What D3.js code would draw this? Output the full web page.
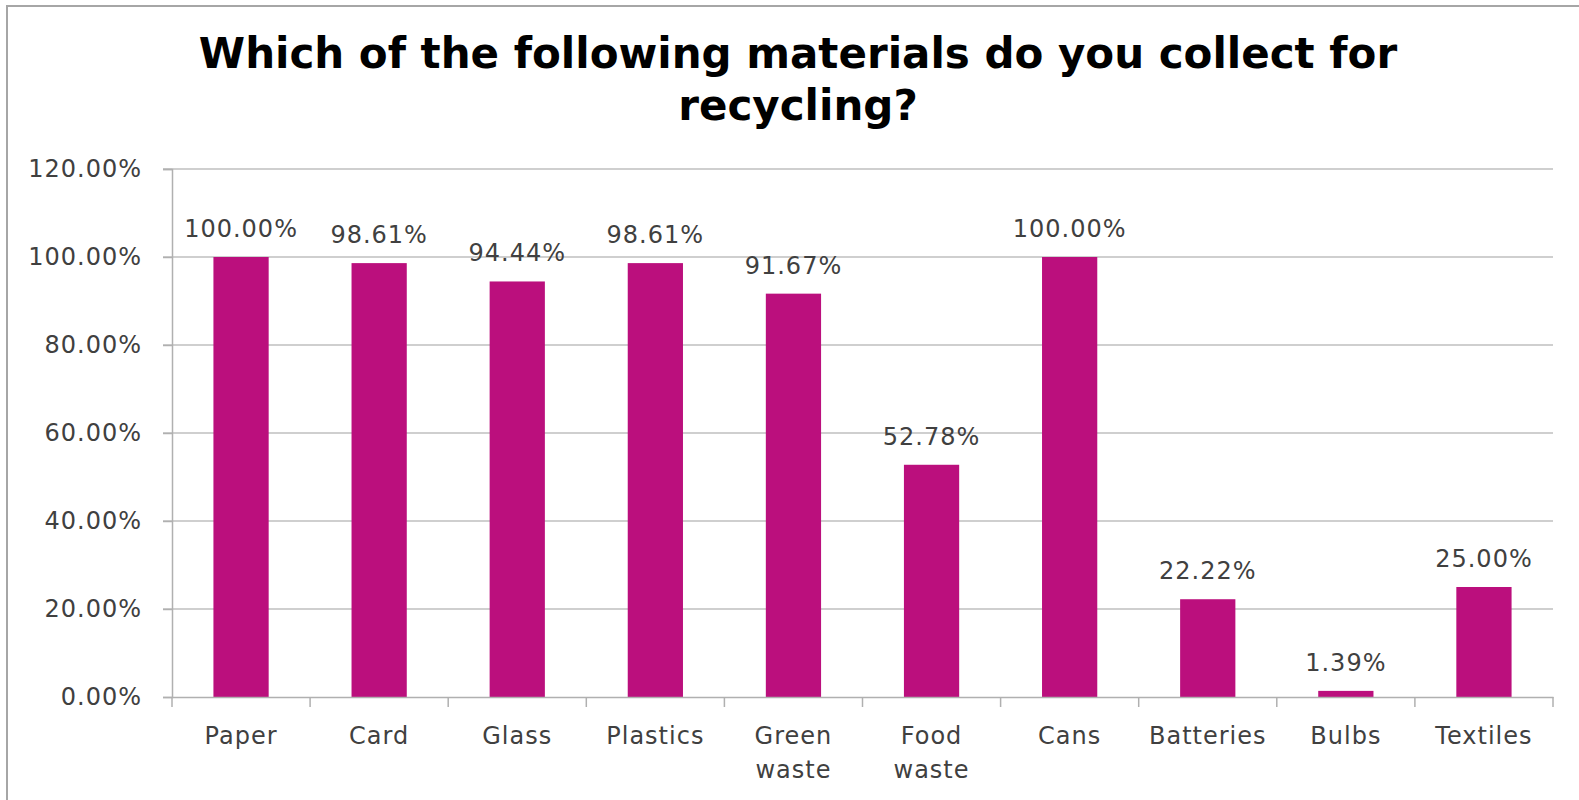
<!DOCTYPE html>
<html>
<head>
<meta charset="utf-8">
<script src="https://cdn.jsdelivr.net/npm/d3@7"></script>
<style>
  html, body { margin: 0; padding: 0; background: #fff; }
  svg { display: block; }
</style>
</head>
<body>
<svg id="chart" width="1579" height="800"></svg>
<script>
// data
const categories = ["Paper", "Card", "Glass", "Plastics", "Green waste", "Food waste", "Cans", "Batteries", "Bulbs", "Textiles"];
const values = [100.00, 98.61, 94.44, 98.61, 91.67, 52.78, 100.00, 22.22, 1.39, 25.00];
const yTicks = [0, 20, 40, 60, 80, 100, 120];
const titleLines = ["Which of the following materials do you collect for", "recycling?"];

const W = 1579, H = 800;
const m = { top: 169, right: 26, bottom: 103, left: 172 };
const barColor = "#bb0f7d";
const textColor = "#404040";
const fontFam = "'DejaVu Sans', Verdana, sans-serif";
const spacing = "1px";

const svg = d3.select("#chart");

// frame
svg.append("path")
  .attr("d", `M7,${H} L7,6 L${W},6`)
  .attr("fill", "none")
  .attr("stroke", "#a6a6a6")
  .attr("stroke-width", 2);

// title
const title = svg.append("text")
  .attr("text-anchor", "middle")
  .attr("font-family", fontFam)
  .attr("font-weight", "bold")
  .attr("font-size", 42)
  .attr("fill", "#000");
title.selectAll("tspan").data(titleLines).join("tspan")
  .attr("x", 798)
  .attr("y", (d, i) => 68 + i * 52)
  .text(d => d);

const x = d3.scaleBand()
  .domain(categories)
  .range([m.left, W - m.right])
  .padding(0);

const y = d3.scaleLinear()
  .domain([0, 120])
  .range([H - m.bottom, m.top]);

// gridlines
svg.append("g").selectAll("line").data(yTicks.filter(t => t > 0)).join("line")
  .attr("x1", m.left - 9).attr("x2", W - m.right)
  .attr("y1", d => y(d)).attr("y2", d => y(d))
  .attr("stroke", "#bfbfbf").attr("stroke-width", 1.5);

// y axis
const yAxis = svg.append("g")
  .attr("transform", `translate(${m.left},0)`)
  .call(d3.axisLeft(y).tickValues(yTicks).tickSize(9).tickPadding(21)
    .tickFormat(d => d.toFixed(2) + "%"));
yAxis.select(".domain").attr("stroke", "#b0b0b0").attr("stroke-width", 1.5);
yAxis.selectAll(".tick line").attr("stroke", "#b0b0b0").attr("stroke-width", 1.5);
yAxis.selectAll(".tick text")
  .attr("font-family", fontFam).attr("font-size", 24).attr("fill", textColor)
  .attr("letter-spacing", spacing);

// bars
const barW = x.bandwidth() * 0.4;
svg.append("g").selectAll("rect").data(values).join("rect")
  .attr("x", (d, i) => x(categories[i]) + (x.bandwidth() - barW) / 2)
  .attr("y", d => y(d))
  .attr("width", barW)
  .attr("height", d => y(0) - y(d))
  .attr("fill", barColor);

// data labels
svg.append("g").selectAll("text").data(values).join("text")
  .attr("x", (d, i) => x(categories[i]) + x.bandwidth() / 2)
  .attr("y", d => y(d) - 20)
  .attr("text-anchor", "middle")
  .attr("font-family", fontFam).attr("font-size", 24).attr("fill", textColor)
  .attr("letter-spacing", spacing)
  .text(d => d.toFixed(2) + "%");

// x axis
const xAxis = svg.append("g")
  .attr("transform", `translate(0,${y(0)})`)
  .call(d3.axisBottom(x).tickSize(0).tickFormat(""));
xAxis.select(".domain").attr("stroke", "#b0b0b0").attr("stroke-width", 1.5);
xAxis.selectAll(".tick").remove();

// category boundary ticks
const bounds = categories.map(c => x(c)).concat([x.range()[1]]);
svg.append("g").selectAll("line").data(bounds).join("line")
  .attr("x1", d => d).attr("x2", d => d)
  .attr("y1", y(0)).attr("y2", y(0) + 10)
  .attr("stroke", "#b0b0b0").attr("stroke-width", 1.5);

// category labels
const catLabels = svg.append("g").selectAll("text").data(categories).join("text")
  .attr("text-anchor", "middle")
  .attr("font-family", fontFam).attr("font-size", 24).attr("fill", textColor)
  .attr("letter-spacing", spacing);
catLabels.selectAll("tspan").data(d => d.split(" ").map(w => ({ w, c: d }))).join("tspan")
  .attr("x", d => x(d.c) + x.bandwidth() / 2)
  .attr("y", (d, i) => y(0) + 47 + i * 34)
  .text(d => d.w);
</script>
</body>
</html>
